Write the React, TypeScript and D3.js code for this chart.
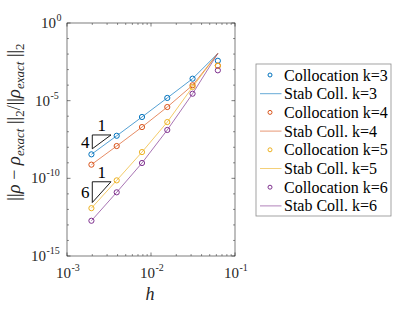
import React from "react";
import * as d3 from "d3";

const hValues = [1 / 16, 1 / 32, 1 / 64, 1 / 128, 1 / 256, 1 / 512];
const kLabels = ["k=3", "k=4", "k=5", "k=6"];
const colors = ["#0072BD", "#D95319", "#EDB120", "#7E2F8E"];
const collK3 = [3.7e-3, 2.6e-4, 1.5e-5, 8.9e-7, 5.5e-8, 3.5e-9];
const collK4 = [1.8e-3, 9.8e-5, 3.9e-6, 2.0e-7, 1.2e-8, 7.6e-10];
const collK5 = [1.75e-3, 7.6e-5, 4.2e-7, 4.9e-9, 7.4e-11, 1.2e-12];
const collK6 = [9.0e-4, 2.8e-5, 1.3e-7, 9.7e-10, 1.26e-11, 1.86e-13];
const stabK3 = [1.1e-2, 2.6e-4, 1.5e-5, 8.9e-7, 5.5e-8, 3.5e-9];
const stabK4 = [1.1e-2, 9.8e-5, 3.9e-6, 2.0e-7, 1.2e-8, 7.6e-10];
const stabK5 = [1.1e-2, 7.6e-5, 4.2e-7, 4.9e-9, 7.4e-11, 1.2e-12];
const stabK6 = [1.1e-2, 2.8e-5, 1.3e-7, 9.7e-10, 1.26e-11, 1.86e-13];
const xTickExps = [-3, -2, -1];
const yTickExps = [-15, -10, -5, 0];
const slopeTriangles = [
  { order: 4, x0: 2e-3, x1: 3.34e-3, yTop: 6.2e-8 },
  { order: 6, x0: 2e-3, x1: 3.34e-3, yTop: 6.0e-11 },
];

const FONT = "'Liberation Serif', 'DejaVu Serif', serif";

export default function App() {
  const W = 415, H = 312;
  const L = 67, R = 235, T = 23, B = 256;
  const x = d3.scaleLog().domain([1e-3, 1e-1]).range([L, R]);
  const y = d3.scaleLog().domain([1e-15, 1]).range([B, T]);
  const colls = [collK3, collK4, collK5, collK6];
  const stabs = [stabK3, stabK4, stabK5, stabK6];
  const line = d3
    .line<[number, number]>()
    .x((d) => x(d[0]))
    .y((d) => y(d[1]));

  const xMinor: number[] = [];
  for (let e = -3; e < -1; e++) for (let m = 2; m <= 9; m++) xMinor.push(m * Math.pow(10, e));
  const yMinor: number[] = [];
  for (let e = -15; e <= 0; e++) if (e % 5 !== 0) yMinor.push(Math.pow(10, e));

  const axisColor = "#262626";
  const legendEntries: { kind: "m" | "l"; c: string; label: string }[] = [];
  kLabels.forEach((k, i) => {
    legendEntries.push({ kind: "m", c: colors[i], label: "Collocation " + k });
    legendEntries.push({ kind: "l", c: colors[i], label: "Stab Coll. " + k });
  });
  const lgX = 256, lgY = 64, lgW = 135, lgH = 152, rowH = 18.7;

  return (
    <svg width={W} height={H} style={{ position: "absolute", left: 0, top: 0, background: "#fff" }} fontFamily={FONT}>
      <rect x={0} y={0} width={W} height={H} fill="#fff" />
      {/* series */}
      {stabs.map((s, i) => (
        <path
          key={"l" + i}
          d={line(hValues.map((h, j) => [h, s[j]]))!}
          fill="none"
          stroke={colors[i]}
          strokeOpacity={0.75}
          strokeWidth={0.9}
        />
      ))}
      {colls.map((s, i) =>
        hValues.map((h, j) => (
          <circle key={"c" + i + "-" + j} cx={x(h)} cy={y(s[j])} r={2.6} fill="none" stroke={colors[i]} strokeWidth={1} />
        ))
      )}
      {/* slope triangles */}
      {slopeTriangles.map((t, i) => {
        const yBot = t.yTop / Math.pow(t.x1 / t.x0, t.order);
        const xm = Math.sqrt(t.x0 * t.x1);
        const ym = Math.sqrt(t.yTop * yBot);
        return (
          <g key={"t" + i}>
            <path
              d={`M${x(t.x0)},${y(t.yTop)}L${x(t.x1)},${y(t.yTop)}L${x(t.x0)},${y(yBot)}Z`}
              fill="none"
              stroke="#000"
              strokeWidth={0.9}
            />
            <text x={x(xm)} y={y(t.yTop) - 4} fontSize={17} textAnchor="middle">1</text>
            <text x={x(t.x0) - 7} y={y(ym) + 6} fontSize={17} textAnchor="middle">{t.order}</text>
          </g>
        );
      })}
      {/* frame */}
      <rect x={L} y={T} width={R - L} height={B - T} fill="none" stroke={axisColor} strokeWidth={0.6} />
      {xTickExps.map((e) => {
        const px = x(Math.pow(10, e));
        return (
          <g key={"xt" + e}>
            <line x1={px} x2={px} y1={B} y2={B - 3.5} stroke={axisColor} strokeWidth={0.6} />
            <line x1={px} x2={px} y1={T} y2={T + 3.5} stroke={axisColor} strokeWidth={0.6} />
            <text x={px + 4} y={278} fontSize={15} textAnchor="end" fill={axisColor}>10</text>
            <text x={px + 4.5} y={271} fontSize={10} textAnchor="start" fill={axisColor}>{String(e)}</text>
          </g>
        );
      })}
      {xMinor.map((v, i) => (
        <g key={"xm" + i}>
          <line x1={x(v)} x2={x(v)} y1={B} y2={B - 2} stroke={axisColor} strokeWidth={0.5} />
          <line x1={x(v)} x2={x(v)} y1={T} y2={T + 2} stroke={axisColor} strokeWidth={0.5} />
        </g>
      ))}
      {yTickExps.map((e) => {
        const py = y(Math.pow(10, e));
        return (
          <g key={"yt" + e}>
            <line x1={L} x2={L + 3.5} y1={py} y2={py} stroke={axisColor} strokeWidth={0.6} />
            <line x1={R} x2={R - 3.5} y1={py} y2={py} stroke={axisColor} strokeWidth={0.6} />
            <text x={e === 0 ? 56 : e === -5 ? 50 : 46} y={py + 5} fontSize={15} textAnchor="end" fill={axisColor}>10</text>
            <text x={e === 0 ? 56.5 : e === -5 ? 50.5 : 46.5} y={py - 2} fontSize={10} textAnchor="start" fill={axisColor}>{String(e)}</text>
          </g>
        );
      })}
      {yMinor.map((v, i) => (
        <g key={"ym" + i}>
          <line x1={L} x2={L + 2} y1={y(v)} y2={y(v)} stroke={axisColor} strokeWidth={0.5} />
          <line x1={R} x2={R - 2} y1={y(v)} y2={y(v)} stroke={axisColor} strokeWidth={0.5} />
        </g>
      ))}
      {/* axis labels */}
      <text x={(L + R) / 2 - 1} y={300} fontSize={18} fontStyle="italic" textAnchor="middle" fill={axisColor}>h</text>
      <text transform={`translate(20,122) rotate(-90)`} fontSize={18} textAnchor="middle" fill={axisColor}>
        <tspan>||</tspan>
        <tspan fontStyle="italic" fontSize={19}>ρ</tspan>
        <tspan> − </tspan>
        <tspan fontStyle="italic" fontSize={19}>ρ</tspan>
        <tspan fontStyle="italic" fontSize={13} dy={4}>exact</tspan>
        <tspan dy={-4}> ||</tspan>
        <tspan fontSize={13} dy={4}>2</tspan>
        <tspan dy={-4}>/||</tspan>
        <tspan fontStyle="italic" fontSize={19}>ρ</tspan>
        <tspan fontStyle="italic" fontSize={13} dy={4}>exact</tspan>
        <tspan dy={-4}> ||</tspan>
        <tspan fontSize={13} dy={4}>2</tspan>
      </text>
      {/* legend */}
      <rect x={lgX} y={lgY} width={lgW} height={lgH} fill="#fff" stroke="#8c8c8c" strokeWidth={0.8} />
      {legendEntries.map((en, i) => {
        const cy = 75 + i * rowH;
        return (
          <g key={"lg" + i}>
            {en.kind === "m" ? (
              <circle cx={270} cy={cy} r={2} fill="none" stroke={en.c} strokeWidth={1} />
            ) : (
              <line x1={260} x2={281.5} y1={cy} y2={cy} stroke={en.c} strokeOpacity={0.6} strokeWidth={1} />
            )}
            <text x={284} y={cy + 5.5} fontSize={16} fill="#000">{en.label}</text>
          </g>
        );
      })}
    </svg>
  );
}
